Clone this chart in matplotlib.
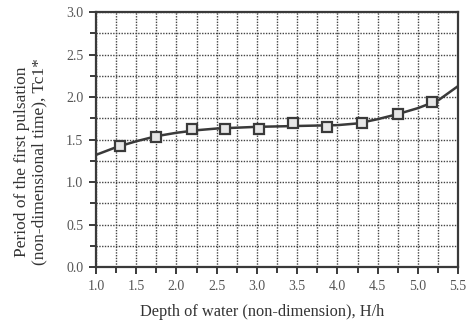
import matplotlib
matplotlib.use("Agg")
import matplotlib.pyplot as plt
from matplotlib.ticker import MultipleLocator, FormatStrFormatter

# measured points (squares)
depth = [1.30, 1.74, 2.19, 2.60, 3.02, 3.45, 3.87, 4.30, 4.75, 5.17]
period = [1.42, 1.53, 1.63, 1.62, 1.62, 1.70, 1.65, 1.69, 1.80, 1.94]

# fitted curve
curve_x = [1.0, 1.25, 1.5, 1.75, 2.0, 2.25, 2.5, 2.75, 3.0, 3.25, 3.5, 3.75, 4.0, 4.25, 4.5, 4.75, 5.0, 5.25, 5.5]
curve_y = [1.32, 1.41, 1.48, 1.54, 1.58, 1.61, 1.63, 1.64, 1.65, 1.655, 1.66, 1.665, 1.67, 1.69, 1.74, 1.80, 1.87, 1.96, 2.13]

xticks = [1.0, 1.5, 2.0, 2.5, 3.0, 3.5, 4.0, 4.5, 5.0, 5.5]
yticks = [0.0, 0.5, 1.0, 1.5, 2.0, 2.5, 3.0]

plt.rcParams['font.family'] = ['Liberation Serif', 'DejaVu Serif']

fig = plt.figure(figsize=(4.68, 3.25), dpi=100)
ax = fig.add_axes([0.205, 0.178, 0.774, 0.785])

ink = '#3a3a3a'
ax.plot(curve_x, curve_y, color=ink, lw=1.8, zorder=3)
ax.plot(depth, period, ls='none', marker='s', ms=6.5, mfc='#e6e6e6', mec=ink, mew=1.6, zorder=4)

ax.set_xlim(1.0, 5.5)
ax.set_ylim(0.0, 3.0)
ax.set_xticks(xticks)
ax.set_yticks(yticks)
ax.xaxis.set_minor_locator(MultipleLocator(0.25))
ax.yaxis.set_minor_locator(MultipleLocator(0.25))
ax.xaxis.set_major_formatter(FormatStrFormatter('%.1f'))
ax.yaxis.set_major_formatter(FormatStrFormatter('%.1f'))

ax.grid(True, which='both', color='#444444', ls=(0, (1, 1)), lw=1.0)
ax.set_axisbelow(True)

for s in ax.spines.values():
    s.set_color(ink)
    s.set_linewidth(1.6)

ax.tick_params(which='both', direction='out', color=ink, width=1.4, labelsize=10, labelcolor='#555555')
ax.tick_params(which='major', length=5, pad=4)
ax.tick_params(which='minor', length=4)

ax.set_xlabel('Depth of water (non-dimension), H/h', fontsize=11.8, color='#333333')
ax.set_ylabel('Period of the first pulsation\n(non-dimensional time), Tc1*', fontsize=12.5, color='#333333', linespacing=1.15)
ax.xaxis.set_label_coords(0.458, -0.145)
ax.yaxis.set_label_coords(-0.133, 0.415)

fig.savefig('out.png', dpi=100)
